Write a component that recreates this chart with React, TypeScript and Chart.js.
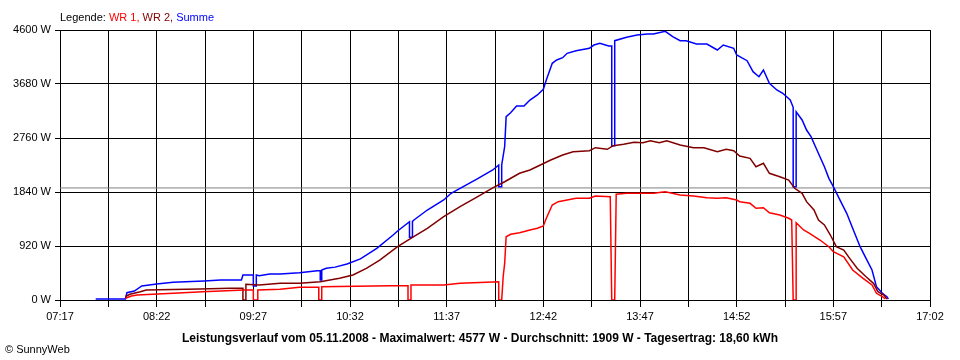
import React, { useEffect, useRef } from "react";
import { Chart, registerables } from "chart.js";

Chart.register(...registerables);

// ---- data (time "HH:MM", watts) ----
const timeTickLabels = ["07:17", "08:22", "09:27", "10:32", "11:37", "12:42", "13:47", "14:52", "15:57", "17:02"];
const powerTicks = [0, 920, 1840, 2760, 3680, 4600];
const averageWatt = 1909;

const wr1: [string, number][] = [
  ["08:01", 29], ["08:05", 68], ["08:09", 85], ["08:33", 114], ["08:53", 141], ["09:21", 170], ["09:27", 170],
  ["09:27", 0], ["09:30", 0], ["09:30", 170], ["09:45", 182], ["09:58", 216], ["10:11", 216], ["10:11", 0],
  ["10:13", 0], ["10:13", 227], ["10:59", 244], ["11:11", 244], ["11:11", 0], ["11:13", 0], ["11:13", 256],
  ["11:35", 256], ["11:46", 285], ["12:08", 307], ["12:12", 312], ["12:12", 0], ["12:14", 0], ["12:15", 400],
  ["12:16", 625], ["12:17", 1078], ["12:20", 1119], ["12:26", 1147], ["12:33", 1193], ["12:38", 1222],
  ["12:42", 1261], ["12:44", 1392], ["12:48", 1619], ["12:52", 1675], ["12:58", 1704], ["13:04", 1733],
  ["13:13", 1733], ["13:17", 1772], ["13:27", 1760], ["13:28", 0], ["13:30", 0], ["13:31", 1801],
  ["13:38", 1818], ["13:47", 1818], ["13:56", 1818], ["14:04", 1845], ["14:14", 1789], ["14:23", 1772],
  ["14:32", 1743], ["14:39", 1733], ["14:45", 1743], ["14:52", 1704], ["14:54", 1675], ["15:01", 1647],
  ["15:05", 1562], ["15:10", 1573], ["15:14", 1487], ["15:21", 1448], ["15:27", 1392], ["15:29", 1363],
  ["15:30", 0], ["15:32", 0], ["15:32", 1317], ["15:37", 1193], ["15:41", 1136], ["15:48", 1022],
  ["15:54", 908], ["15:57", 823], ["16:04", 737], ["16:10", 511], ["16:17", 370], ["16:23", 256],
  ["16:26", 114], ["16:30", 56], ["16:32", 17],
];

const wr2: [string, number][] = [
  ["08:01", 56], ["08:04", 97], ["08:11", 141], ["08:15", 170], ["08:51", 187], ["09:11", 199], ["09:20", 199],
  ["09:20", 0], ["09:22", 0], ["09:22", 267], ["09:31", 256], ["09:45", 285], ["09:58", 285], ["10:12", 312],
  ["10:25", 370], ["10:34", 426], ["10:43", 540], ["10:52", 681], ["11:04", 908], ["11:14", 1068],
  ["11:24", 1222], ["11:35", 1419], ["11:46", 1590], ["11:57", 1750], ["12:08", 1910], ["12:16", 2015],
  ["12:26", 2159], ["12:33", 2215], ["12:40", 2300], ["12:47", 2385], ["12:55", 2470], ["13:02", 2527],
  ["13:13", 2544], ["13:17", 2595], ["13:25", 2567], ["13:29", 2629], ["13:36", 2653], ["13:43", 2687],
  ["13:49", 2680], ["13:54", 2714], ["14:00", 2680], ["14:05", 2714], ["14:14", 2641], ["14:23", 2595],
  ["14:30", 2595], ["14:39", 2527], ["14:45", 2567], ["14:50", 2544], ["14:54", 2453], ["15:01", 2414],
  ["15:05", 2271], ["15:10", 2329], ["15:14", 2159], ["15:21", 2101], ["15:27", 2044], ["15:31", 1903],
  ["15:36", 1818], ["15:39", 1675], ["15:44", 1533], ["15:47", 1363], ["15:51", 1278], ["15:55", 1107],
  ["15:59", 908], ["16:04", 852], ["16:08", 710], ["16:13", 540], ["16:19", 397], ["16:24", 284],
  ["16:27", 141], ["16:31", 85], ["16:33", 17],
];

const summe: [string, number][] = [
  ["07:41", 17], ["08:01", 17], ["08:02", 124], ["08:07", 153], ["08:12", 239], ["08:22", 273], ["08:33", 302],
  ["08:54", 324], ["09:05", 341], ["09:19", 341], ["09:20", 426], ["09:27", 426], ["09:27", 239], ["09:29", 239],
  ["09:29", 426], ["09:31", 414], ["09:38", 443], ["09:45", 443], ["09:58", 465], ["10:10", 500], ["10:12", 500],
  ["10:12", 341], ["10:13", 341], ["10:13", 511], ["10:16", 540], ["10:22", 560], ["10:30", 613], ["10:39", 700],
  ["10:50", 881], ["11:01", 1107], ["11:04", 1176], ["11:12", 1334], ["11:12", 1068], ["11:14", 1068],
  ["11:14", 1340], ["11:15", 1363], ["11:24", 1533], ["11:35", 1704], ["11:40", 1818], ["11:46", 1903],
  ["11:57", 2056], ["12:08", 2215], ["12:12", 2300], ["12:12", 1930], ["12:14", 1930], ["12:14", 2300],
  ["12:16", 2612], ["12:17", 3123], ["12:20", 3191], ["12:24", 3305], ["12:29", 3305], ["12:33", 3407],
  ["12:38", 3493], ["12:42", 3590], ["12:44", 3748], ["12:48", 4033], ["12:51", 4089], ["12:55", 4128],
  ["12:58", 4203], ["13:04", 4247], ["13:13", 4288], ["13:16", 4344], ["13:20", 4373], ["13:26", 4327],
  ["13:28", 4327], ["13:28", 2630], ["13:30", 2630], ["13:30", 4418], ["13:38", 4476], ["13:45", 4515],
  ["13:52", 4532], ["13:56", 4532], ["14:04", 4577], ["14:09", 4486], ["14:14", 4418], ["14:18", 4418],
  ["14:25", 4361], ["14:32", 4361], ["14:39", 4259], ["14:43", 4344], ["14:50", 4288], ["14:52", 4174],
  ["14:59", 4077], ["15:03", 3890], ["15:07", 3804], ["15:10", 3918], ["15:14", 3692], ["15:19", 3578],
  ["15:23", 3522], ["15:28", 3407], ["15:30", 3283], ["15:30", 1930], ["15:32", 1930], ["15:32", 3208],
  ["15:36", 3067], ["15:39", 2896], ["15:42", 2782], ["15:45", 2612], ["15:48", 2441], ["15:51", 2271],
  ["15:54", 2073], ["15:57", 1930], ["16:02", 1675], ["16:06", 1477], ["16:10", 1222], ["16:15", 908],
  ["16:19", 710], ["16:23", 511], ["16:26", 227], ["16:30", 114], ["16:33", 56], ["16:34", 17],
];

const footerText =
  "Leistungsverlauf vom 05.11.2008 - Maximalwert: 4577 W - Durchschnitt: 1909 W - Tagesertrag: 18,60 kWh";
const copyrightText = "\u00A9 SunnyWeb";

// ---- helpers ----
const FONT = "'Liberation Sans', Arial, sans-serif";
const toMin = (s: string) => {
  const [h, m] = s.split(":").map(Number);
  return h * 60 + m;
};
const toPoints = (arr: [string, number][]) => arr.map(([t, v]) => ({ x: toMin(t), y: v }));

const tickMinutes: number[] = [];
timeTickLabels.forEach((l, i) => {
  const m = toMin(l);
  tickMinutes.push(m);
  if (i < timeTickLabels.length - 1) tickMinutes.push((m + toMin(timeTickLabels[i + 1])) / 2);
});
const labelByMinute = new Map(timeTickLabels.map((l) => [toMin(l), l]));

const textPlugin = {
  id: "sunnyTexts",
  afterDraw(chart: any) {
    const ctx = chart.ctx;
    ctx.save();
    ctx.textBaseline = "alphabetic";
    ctx.textAlign = "left";
    ctx.font = `11px ${FONT}`;
    let x = 60;
    const y = 21;
    const parts: [string, string][] = [
      ["Legende: ", "#000000"],
      ["WR 1, ", "#FF0000"],
      ["WR 2, ", "#800000"],
      ["Summe", "#0000FF"],
    ];
    parts.forEach(([t, c]) => {
      ctx.fillStyle = c;
      ctx.fillText(t, x, y);
      x += ctx.measureText(t).width;
    });
    ctx.font = `bold 12px ${FONT}`;
    ctx.fillStyle = "#000";
    ctx.textAlign = "center";
    ctx.fillText(footerText, 480, 342);
    ctx.font = `11px ${FONT}`;
    ctx.textAlign = "left";
    ctx.fillText(copyrightText, 5, 353);
    ctx.restore();
  },
};

export default function App() {
  const ref = useRef<HTMLCanvasElement | null>(null);
  useEffect(() => {
    if (!ref.current) return;
    const chart = new Chart(ref.current, {
      type: "line",
      data: {
        datasets: [
          { label: "WR 1", data: toPoints(wr1), borderColor: "#FF0000", borderWidth: 1.5, pointRadius: 0, tension: 0 },
          { label: "WR 2", data: toPoints(wr2), borderColor: "#800000", borderWidth: 1.5, pointRadius: 0, tension: 0 },
          { label: "Summe", data: toPoints(summe), borderColor: "#0000FF", borderWidth: 1.5, pointRadius: 0, tension: 0 },
          {
            label: "Durchschnitt",
            data: [
              { x: toMin(timeTickLabels[0]), y: averageWatt },
              { x: toMin(timeTickLabels[timeTickLabels.length - 1]), y: averageWatt },
            ],
            borderColor: "#808080",
            borderWidth: 1,
            pointRadius: 0,
          },
        ],
      },
      options: {
        responsive: false,
        animation: false,
        layout: { padding: { top: 30, right: 30, left: 0, bottom: 0 } },
        plugins: { legend: { display: false }, tooltip: { enabled: false } },
        scales: {
          x: {
            type: "linear",
            min: toMin(timeTickLabels[0]),
            max: toMin(timeTickLabels[timeTickLabels.length - 1]),
            afterBuildTicks: (scale: any) => {
              scale.ticks = tickMinutes.map((v) => ({ value: v }));
            },
            afterFit: (scale: any) => {
              scale.height = 60;
            },
            ticks: {
              autoSkip: false,
              maxRotation: 0,
              color: "#000",
              padding: 3,
              font: { family: FONT, size: 11 },
              callback: (v: any) => labelByMinute.get(Number(v)) ?? "",
            },
            grid: { color: "#000", lineWidth: 1, tickLength: 7 },
            border: { color: "#000" },
          },
          y: {
            min: 0,
            max: 4600,
            afterBuildTicks: (scale: any) => {
              scale.ticks = powerTicks.map((v) => ({ value: v }));
            },
            afterFit: (scale: any) => {
              scale.width = 60;
            },
            ticks: {
              color: "#000",
              padding: 4,
              font: { family: FONT, size: 11 },
              callback: (v: any) => `${v} W`,
            },
            grid: { color: "#000", lineWidth: 1, tickLength: 5 },
            border: { color: "#000" },
          },
        },
      },
      plugins: [textPlugin],
    });
    return () => chart.destroy();
  }, []);
  return (
    <div style={{ position: "fixed", left: 0, top: 0, width: 960, height: 360, background: "#fff" }}>
      <canvas ref={ref} width={960} height={360} />
    </div>
  );
}
